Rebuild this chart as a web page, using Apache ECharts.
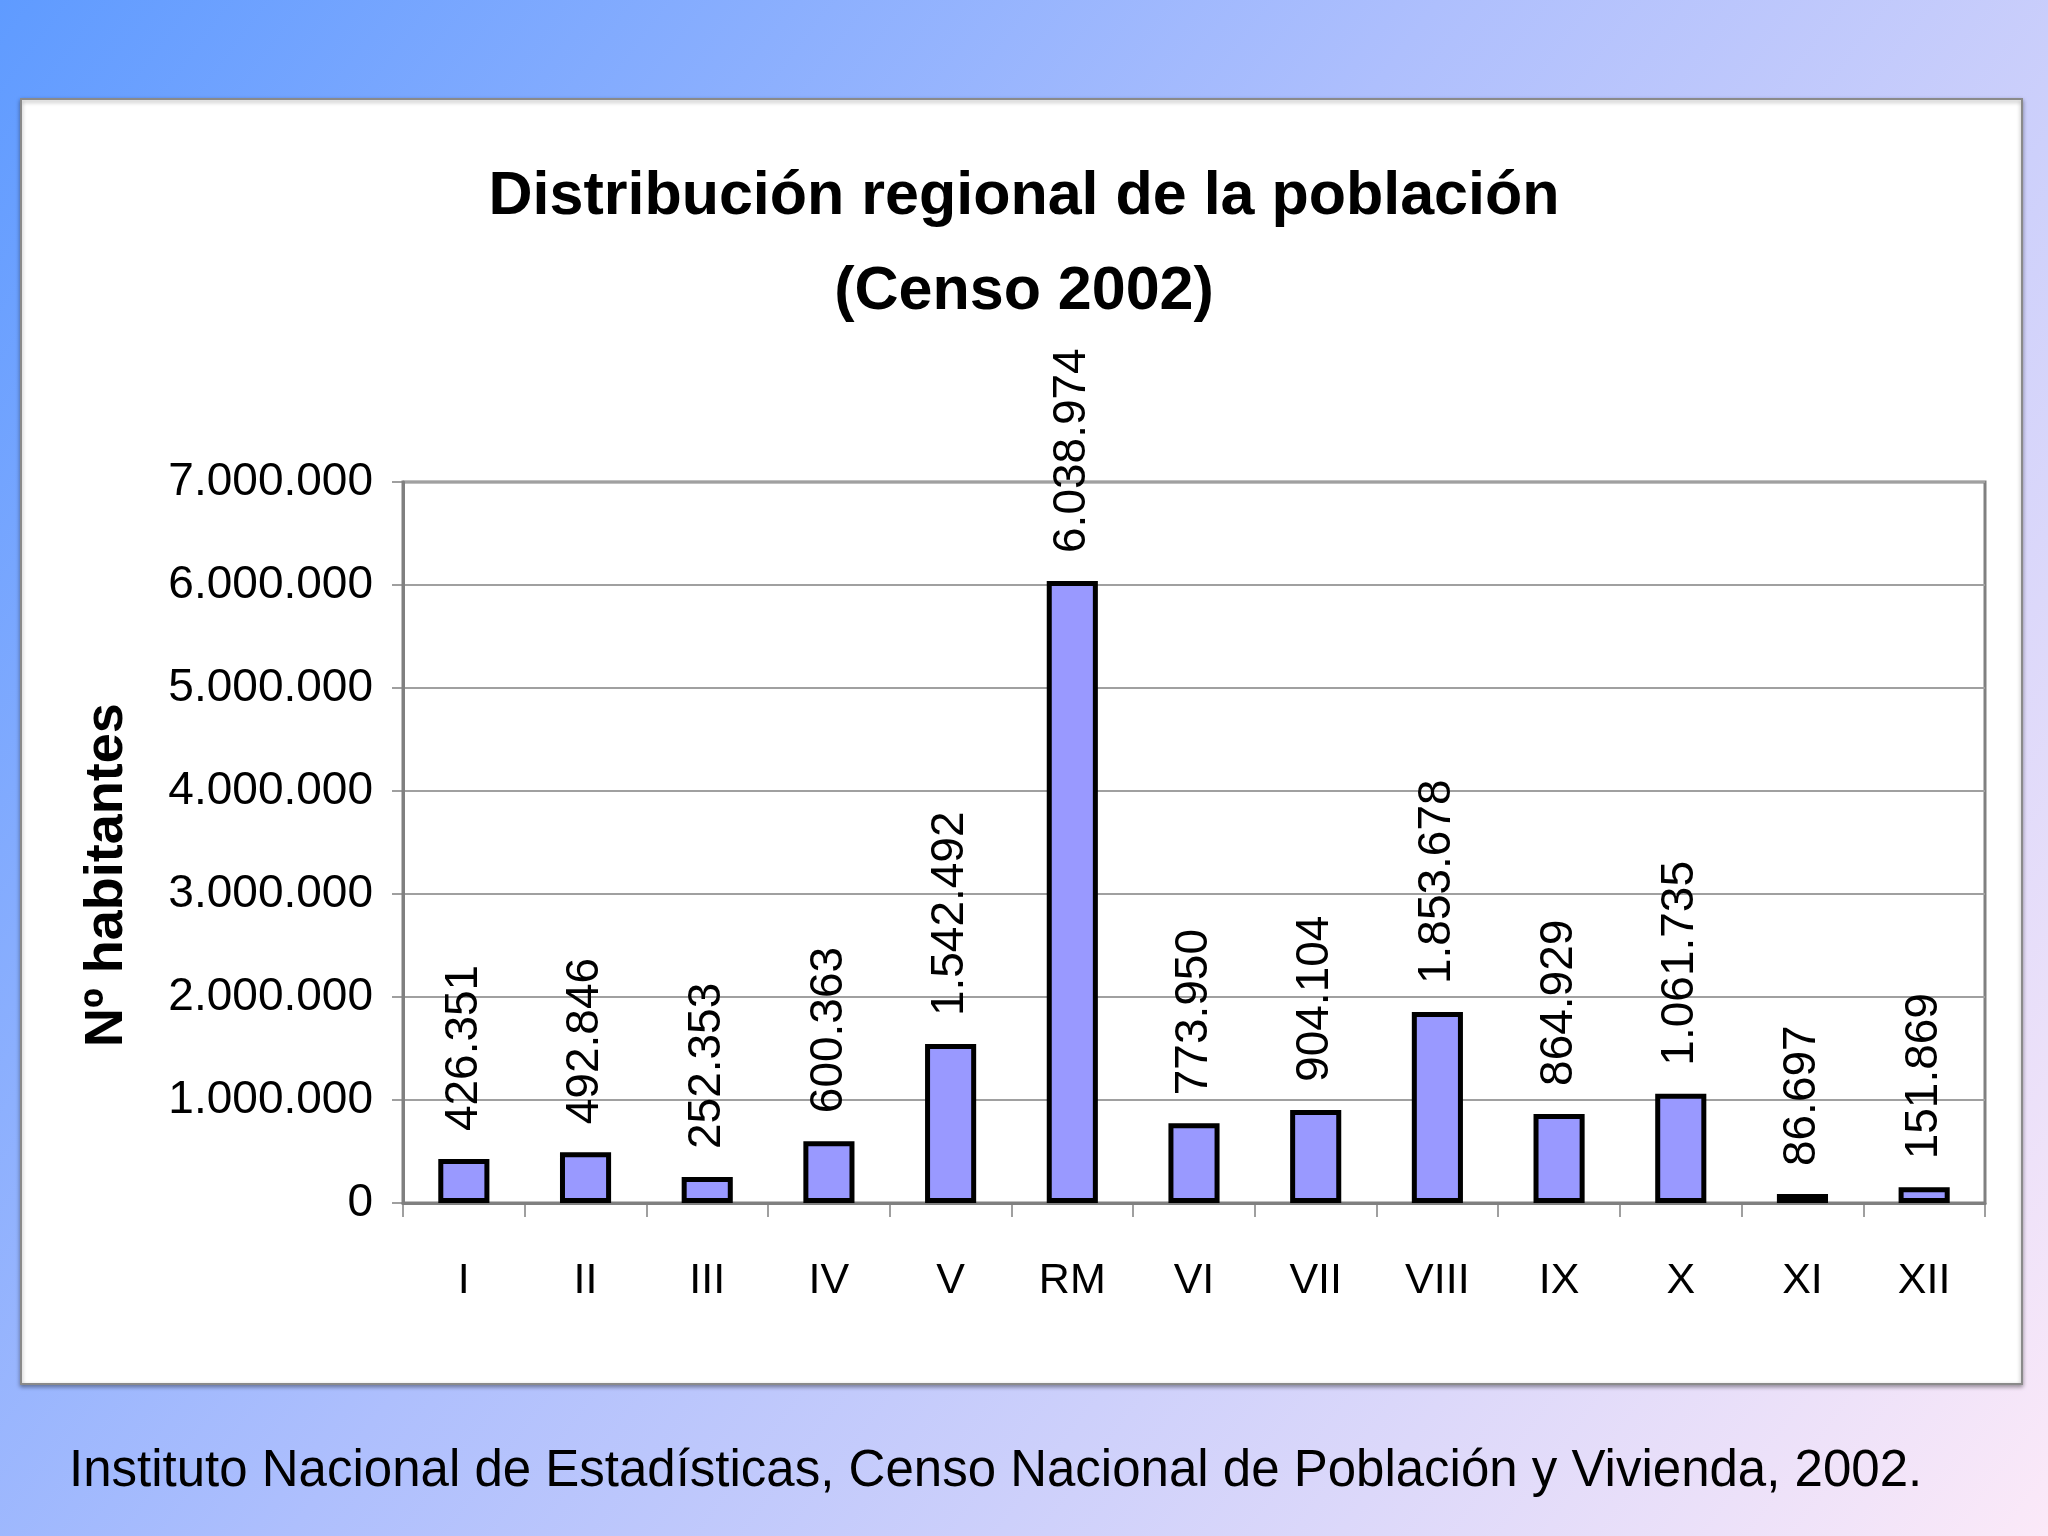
<!DOCTYPE html>
<html>
<head>
<meta charset="utf-8">
<script src="https://cdn.jsdelivr.net/npm/echarts@6/dist/echarts.min.js"></script>
<style>
html,body{margin:0;padding:0;width:2048px;height:1536px;overflow:hidden;}
#chart{width:2048px;height:1536px;}
</style>
</head>
<body>
<div id="chart"></div>
<script>
const categories = ['I','II','III','IV','V','RM','VI','VII','VIII','IX','X','XI','XII'];
const population = [426351, 492846, 252353, 600363, 1542492, 6038974, 773950, 904104, 1853678, 864929, 1061735, 86697, 151869];
const yTicks = [0, 1000000, 2000000, 3000000, 4000000, 5000000, 6000000, 7000000];
const titleText = 'Distribución regional de la población\n(Censo 2002)';
const yAxisName = 'Nº habitantes';
const sourceText = 'Instituto Nacional de Estadísticas, Censo Nacional de Población y Vivienda, 2002.';

const FONT = "'Liberation Sans Narrow', 'Arial Narrow', 'Liberation Sans', Arial, sans-serif";
function fmt(v){ return String(v).replace(/\B(?=(\d{3})+(?!\d))/g, '.'); }

const chart = echarts.init(document.getElementById('chart'));
chart.setOption({
  backgroundColor: new echarts.graphic.LinearGradient(0, 0, 1, 1, [
    {offset: 0, color: '#5f9bff'},
    {offset: 0.45, color: '#aebffd'},
    {offset: 1, color: '#fbe9f8'}
  ]),
  graphic: [
    {type: 'rect', z: -10, shape: {x: 21, y: 99, width: 2001, height: 1285},
     style: {fill: '#ffffff', stroke: '#8a8a8a', lineWidth: 2, shadowBlur: 4, shadowColor: 'rgba(0,0,0,0.35)', shadowOffsetY: 2}},
    {type: 'text', z: 10, x: 69, y: 1472,
     style: {text: sourceText, font: "51px " + FONT, fill: '#000000', textVerticalAlign: 'middle', verticalAlign: 'middle'}},
    {type: 'text', z: 10, x: 107, y: 875, rotation: Math.PI / 2,
     style: {text: yAxisName, font: "bold 54px " + FONT, fill: '#000000', textAlign: 'center', align: 'center', textVerticalAlign: 'middle', verticalAlign: 'middle'}}
  ],
  title: {
    text: titleText, left: 'center', top: 145,
    textStyle: {fontFamily: FONT, fontWeight: 'bold', fontSize: 61, lineHeight: 95, color: '#000'}
  },
  grid: {left: 403, right: 63, top: 482, bottom: 333, show: true, borderColor: '#808080', borderWidth: 3, backgroundColor: 'transparent'},
  xAxis: {
    type: 'category', data: categories,
    axisLine: {lineStyle: {color: '#808080', width: 3}},
    axisTick: {show: true, interval: 0, length: 14, lineStyle: {color: '#808080', width: 1.5}},
    axisLabel: {interval: 0, margin: 57, fontFamily: FONT, fontSize: 43, color: '#000'}
  },
  yAxis: {
    type: 'value', min: 0, max: 7000000, interval: 1000000,
    axisLine: {show: true, lineStyle: {color: '#808080', width: 3}},
    axisTick: {show: true, length: 11, lineStyle: {color: '#808080', width: 1.5}},
    axisLabel: {margin: 30, fontFamily: FONT, fontSize: 46, color: '#000', formatter: v => fmt(v)},
    splitLine: {lineStyle: {color: '#a0a0a0', width: 2}}
  },
  series: [{
    type: 'bar', data: population, barWidth: '42%',
    itemStyle: {color: '#9999ff', borderColor: '#000000', borderWidth: 5},
    label: {show: true, position: 'top', rotate: 90, align: 'left', verticalAlign: 'middle', distance: 28,
      fontFamily: FONT, fontSize: 46, color: '#000', formatter: p => fmt(p.value)}
  }]
});
</script>
</body>
</html>
